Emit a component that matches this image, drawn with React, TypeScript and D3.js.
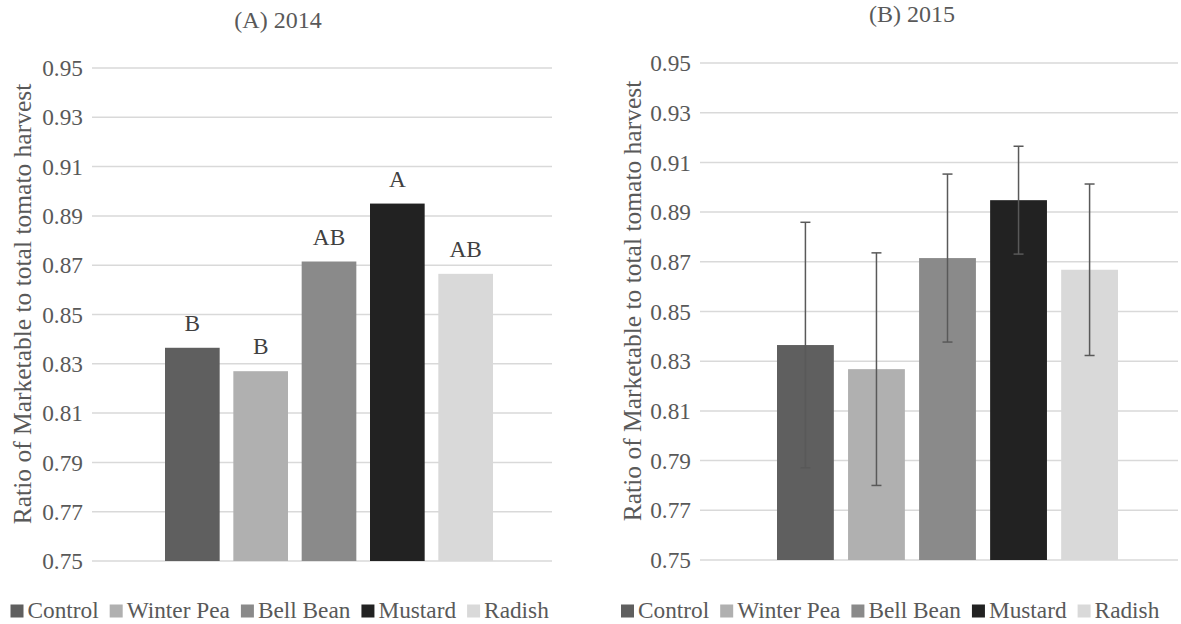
import React, { useEffect, useRef } from "react";
import * as d3 from "d3";

const categories = ["Control", "Winter Pea", "Bell Bean", "Mustard", "Radish"];
const colors = ["#5f5f5f", "#b0b0b0", "#8a8a8a", "#222222", "#d9d9d9"];
const values2014 = [0.8365, 0.827, 0.8715, 0.895, 0.8665];
const letters2014 = ["B", "B", "AB", "A", "AB"];
const values2015 = [0.8365, 0.8268, 0.8715, 0.8948, 0.8668];
const errors2015 = [0.0494, 0.0468, 0.0338, 0.0217, 0.0345];
const yTicks = [0.75, 0.77, 0.79, 0.81, 0.83, 0.85, 0.87, 0.89, 0.91, 0.93, 0.95];
const yTitle = "Ratio of Marketable to total tomato harvest";

const W = 1181;
const H = 624;
const FONT = "Liberation Serif, Tinos, Times New Roman, DejaVu Serif, serif";
const TEXT = "#595959";
const FS = 23.3;

interface PanelCfg {
  title: string;
  titleX: number;
  titleY: number;
  gridX0: number;
  gridX1: number;
  yTop: number;
  yBottom: number;
  barX0: number;
  barX1: number;
  values: number[];
  errors?: number[];
  letters?: string[];
  axisTitleX: number;
  axisTitleY: number;
  legendX: number;
  legendY: number;
}

const panels: PanelCfg[] = [
  {
    title: "(A) 2014", titleX: 278, titleY: 28,
    gridX0: 92, gridX1: 552, yTop: 68, yBottom: 561,
    barX0: 165, barX1: 493,
    values: values2014, letters: letters2014,
    axisTitleX: 31, axisTitleY: 304, legendX: 10.5, legendY: 618,
  },
  {
    title: "(B) 2015", titleX: 912, titleY: 22,
    gridX0: 700, gridX1: 1178, yTop: 63, yBottom: 560,
    barX0: 777, barX1: 1118,
    values: values2015, errors: errors2015,
    axisTitleX: 641, axisTitleY: 301, legendX: 621, legendY: 618,
  },
];

export default function App() {
  const ref = useRef<SVGSVGElement>(null);
  useEffect(() => {
    const svg = d3.select(ref.current);
    svg.selectAll("*").remove();
    svg.append("rect").attr("width", W).attr("height", H).attr("fill", "#ffffff");

    panels.forEach((p) => {
      const g = svg.append("g").style("font-family", FONT);
      const y = d3.scaleLinear().domain([0.75, 0.95]).range([p.yBottom, p.yTop]);
      const x = d3.scaleBand<string>().domain(categories).range([p.barX0, p.barX1]).paddingInner(0.2).paddingOuter(0);

      g.append("text").attr("x", p.titleX).attr("y", p.titleY).attr("text-anchor", "middle")
        .style("font-family", FONT).attr("font-size", 24).attr("fill", TEXT).text(p.title);

      g.selectAll(".grid").data(yTicks).enter().append("line")
        .attr("x1", p.gridX0).attr("x2", p.gridX1)
        .attr("y1", (d) => y(d)).attr("y2", (d) => y(d))
        .attr("stroke", "#d9d9d9").attr("stroke-width", 1.5);

      g.selectAll(".tick").data(yTicks).enter().append("text")
        .attr("x", p.gridX0 - 9).attr("y", (d) => y(d)).attr("dy", "0.35em")
        .attr("text-anchor", "end").style("font-family", FONT).attr("font-size", FS).attr("fill", TEXT)
        .text((d) => d3.format(".2f")(d));

      g.append("text")
        .attr("transform", `translate(${p.axisTitleX},${p.axisTitleY}) rotate(-90)`)
        .attr("text-anchor", "middle").style("font-family", FONT).attr("font-size", 25.5).attr("fill", TEXT)
        .text(yTitle);

      g.selectAll(".bar").data(categories).enter().append("rect")
        .attr("x", (d) => x(d)!).attr("width", x.bandwidth())
        .attr("y", (d, i) => y(p.values[i])).attr("height", (d, i) => y(0.75) - y(p.values[i]))
        .attr("fill", (d, i) => colors[i]);

      if (p.letters) {
        g.selectAll(".lbl").data(categories).enter().append("text")
          .attr("x", (d) => x(d)! + x.bandwidth() / 2).attr("y", (d, i) => y(p.values[i]) - 17)
          .attr("text-anchor", "middle").style("font-family", FONT).attr("font-size", FS).attr("fill", "#404040")
          .text((d, i) => p.letters![i]);
      }

      if (p.errors) {
        const eg = g.selectAll(".err").data(categories).enter().append("g");
        const cx = (d: string) => x(d)! + x.bandwidth() / 2;
        eg.append("line").attr("x1", cx).attr("x2", cx)
          .attr("y1", (d, i) => y(p.values[i] + p.errors![i])).attr("y2", (d, i) => y(p.values[i] - p.errors![i]))
          .attr("stroke", "#595959").attr("stroke-width", 1.5);
        [1, -1].forEach((s) => {
          eg.append("line").attr("x1", (d) => cx(d) - 5).attr("x2", (d) => cx(d) + 5)
            .attr("y1", (d, i) => y(p.values[i] + s * p.errors![i])).attr("y2", (d, i) => y(p.values[i] + s * p.errors![i]))
            .attr("stroke", "#595959").attr("stroke-width", 1.5);
        });
      }

      // legend
      let lx = p.legendX;
      categories.forEach((c, i) => {
        g.append("rect").attr("x", lx).attr("y", p.legendY - 13.5).attr("width", 13).attr("height", 13).attr("fill", colors[i]);
        const t = g.append("text").attr("x", lx + 17).attr("y", p.legendY)
          .style("font-family", FONT).attr("font-size", FS).attr("fill", TEXT).text(c);
        const w = (t.node() as SVGTextElement).getComputedTextLength();
        lx += 17 + w + 11;
      });
    });
  }, []);
  return (
    <svg ref={ref} width={W} height={H} style={{ position: "absolute", left: 0, top: 0 }} />
  );
}
